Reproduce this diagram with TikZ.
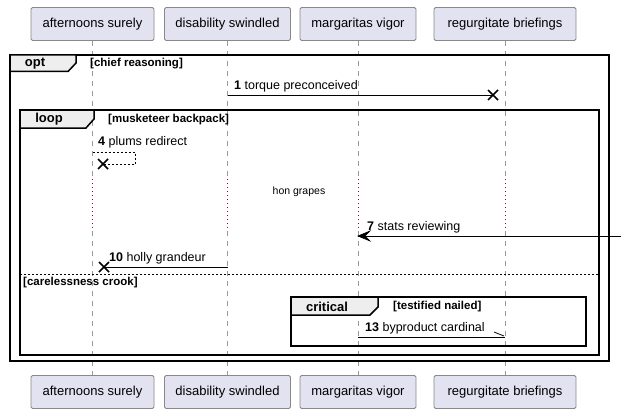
\documentclass[tikz,border=0pt]{standalone}
\usepackage{fontspec}
\setmainfont{Liberation Sans}
\usetikzlibrary{arrows.meta,calc}
\definecolor{partfill}{HTML}{E2E2F0}
\definecolor{partdraw}{HTML}{888888}
\definecolor{tabfill}{HTML}{EEEEEE}
\definecolor{lifegray}{HTML}{999999}
\definecolor{delayred}{HTML}{A80036}
\tikzset{
  part/.style={draw=partdraw, fill=partfill, rounded corners=1.5pt, minimum height=33pt, inner sep=0pt, font=\fontsize{13}{15}\selectfont, line width=0.8pt},
  lifeline/.style={draw=lifegray, dash pattern=on 5pt off 5pt, line width=0.8pt},
  frameline/.style={draw=black, line width=1.5pt},
  tabshape/.style={draw=black, fill=tabfill, line width=1.5pt},
  tablabel/.style={font=\bfseries\fontsize{13}{15}\selectfont, inner sep=0pt},
  guard/.style={font=\bfseries\fontsize{11.5}{13}\selectfont, inner sep=0pt, anchor=west},
  msg/.style={draw=black, line width=1pt},
  msglabel/.style={font=\fontsize{12.5}{14}\selectfont, inner sep=0pt, anchor=south west},
  xmark/.style={draw=black, line width=1.6pt},
  headfill/.style={fill=black, draw=black, line width=0.6pt, line join=miter},
}
\begin{document}
\begin{tikzpicture}[x=1pt,y=-1pt]
\useasboundingbox (0,0) rectangle (621,412);
% participants
\node[part, minimum width=123pt] (a1) at (92.5,24) {afternoons surely};
\node[part, minimum width=126pt] (a2) at (227.5,24) {disability swindled};
\node[part, minimum width=116pt] (a3) at (358,24) {margaritas vigor};
\node[part, minimum width=142pt] (a4) at (505,24) {regurgitate briefings};
\node[part, minimum width=123pt] (b1) at (92.5,392) {afternoons surely};
\node[part, minimum width=126pt] (b2) at (227.5,392) {disability swindled};
\node[part, minimum width=116pt] (b3) at (358,392) {margaritas vigor};
\node[part, minimum width=142pt] (b4) at (505,392) {regurgitate briefings};
% lifelines
\foreach \i in {1,2,3,4}{
  \draw[lifeline] (a\i.south) -- (b\i.north);
}
% delay: red dotted segments
\foreach \x in {92.5,227.5,358,505}{
  \fill[white] (\x-1.5,178) rectangle (\x+1.5,229);
  \draw[delayred, dash pattern=on 1pt off 3pt, line width=0.8pt] (\x,179) -- (\x,228);
}
\node[font=\fontsize{10.5}{12}\selectfont, inner sep=0pt] (delay) at (299,192) {hon grapes};

% opt frame
\draw[frameline] (10,55) rectangle (609,361);
\draw[tabshape] (10,55) -- (76,55) -- (76,63) -- (68,71.5) -- (10,71.5) -- cycle;
\node[tablabel] (optl) at (35,64) {opt};
\node[guard] (optg) at (90,64) {[chief reasoning]};

% message 1
\coordinate (m1s) at (227.5,95);
\coordinate (m1e) at (493,95);
\draw[msg] (m1s) -- (m1e);
\draw[xmark] ($(m1e)+(-5,-5)$) -- ($(m1e)+(5,5)$) ($(m1e)+(-5,5)$) -- ($(m1e)+(5,-5)$);
\node[msglabel] (m1l) at (234,92) {\textbf{1} torque preconceived};

% loop frame
\draw[frameline] (20,110) rectangle (599,355);
\draw[tabshape] (20,110) -- (94,110) -- (94,119) -- (86,128) -- (20,128) -- cycle;
\node[tablabel] (loopl) at (49,119.5) {loop};
\node[guard] (loopg) at (108,119.5) {[musketeer backpack]};

% message 4 (self, dashed)
\coordinate (m4s) at (92.5,152);
\coordinate (m4e) at (103,164);
\draw[msg, dash pattern=on 2pt off 2pt, line width=0.8pt] (m4s) -- (135,152) -- (135,164) -- (m4e);
\draw[xmark] ($(m4e)+(-5,-5)$) -- ($(m4e)+(5,5)$) ($(m4e)+(-5,5)$) -- ($(m4e)+(5,-5)$);
\node[msglabel] (m4l) at (98,148) {\textbf{4} plums redirect};

% message 7 (incoming from right)
\coordinate (m7s) at (621,236);
\coordinate (m7e) at (358,236);
\draw[msg] (m7s) -- (m7e);
\draw[headfill] (m7e) -- ++(12,-5) -- ++(-5,5) -- ++(5,5) -- cycle;
\node[msglabel] (m7l) at (367,233) {\textbf{7} stats reviewing};

% message 10
\coordinate (m10s) at (227.5,267);
\coordinate (m10e) at (104,267);
\draw[msg] (m10s) -- (m10e);
\draw[xmark] ($(m10e)+(-5,-5)$) -- ($(m10e)+(5,5)$) ($(m10e)+(-5,5)$) -- ($(m10e)+(5,-5)$);
\node[msglabel] (m10l) at (109,264) {\textbf{10} holly grandeur};

% else separator
\coordinate (elsel) at (20,274);
\coordinate (elser) at (599,274);
\draw[dash pattern=on 2pt off 2pt, line width=0.8pt] (elsel) -- (elser);
\node[guard] (elseg) at (23,283) {[carelessness crook]};

% critical frame
\draw[frameline] (291,297) rectangle (586,346);
\draw[tabshape] (291,297) -- (378,297) -- (378,307) -- (370,315) -- (291,315) -- cycle;
\node[tablabel] (critl) at (327,306.5) {critical};
\node[guard] (critg) at (393,307) {[testified nailed]};

% message 13
\coordinate (m13s) at (358,337);
\coordinate (m13e) at (505,337);
\draw[msg] (m13s) -- (m13e);
\draw[msg, line width=0.8pt] (m13e) ++(-1,-1) -- ++(-10,-4);
\node[msglabel] (m13l) at (365,334) {\textbf{13} byproduct cardinal};
\end{tikzpicture}
\end{document}
